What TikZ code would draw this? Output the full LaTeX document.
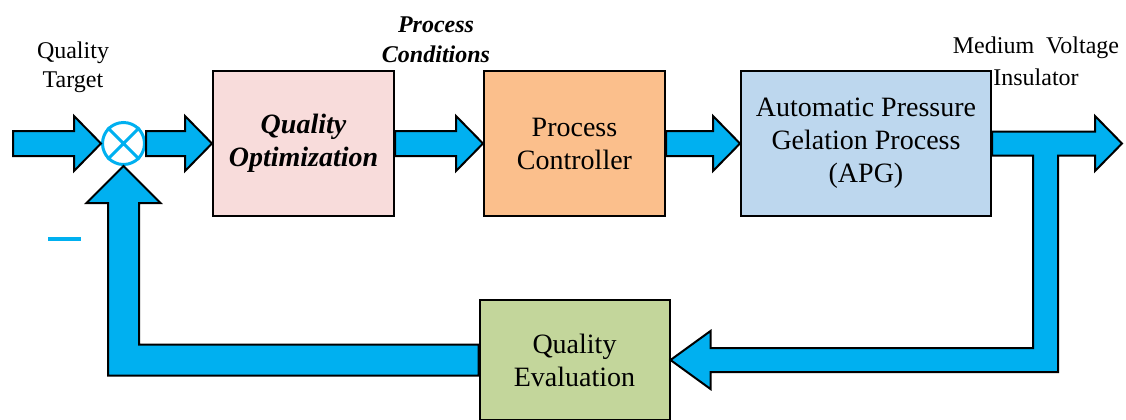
\documentclass[tikz,border=0pt]{standalone}
\usepackage{fontspec}
\setmainfont{Liberation Serif}
\usetikzlibrary{positioning,calc}
\definecolor{Ink}{HTML}{000000}
\definecolor{Flow}{HTML}{00B0F0}
\definecolor{OptFill}{HTML}{F8DCDB}
\definecolor{CtrlFill}{HTML}{FBBF8C}
\definecolor{ApgFill}{HTML}{BDD7EE}
\definecolor{EvalFill}{HTML}{C3D69B}
\tikzset{
  blockbox/.style={draw=Ink,line width=1pt,minimum height=72.5pt,align=center,font=\fontsize{14}{16.5}\selectfont,text=Ink},
  sumnode/.style={circle,draw=Flow,line width=1.5pt,fill=white,minimum size=21pt,inner sep=0pt},
  note/.style={align=center,font=\fontsize{12}{14.5}\selectfont,text=Ink},
  flow/.style={fill=Flow,draw=Ink,line width=1pt,line join=miter}
}
% block arrow from #1 to #2, left to right
\newcommand{\flowright}[2]{%
  \filldraw[flow] ($(#1)+(0,-12.5)$) -- ($(#2)+(-27,-12.5)$) -- ($(#2)+(-27,-27.5)$) -- (#2)
    -- ($(#2)+(-27,27.5)$) -- ($(#2)+(-27,12.5)$) -- ($(#1)+(0,12.5)$) -- cycle;}

\begin{document}
\begin{tikzpicture}[x=0.5pt,y=-0.5pt]
  \useasboundingbox (0,0) rectangle (1126,419);
  \node[blockbox,fill=OptFill,minimum width=90.5pt,font=\fontsize{14}{16.5}\selectfont\bfseries\itshape] (opt) at (303.5,143.5) {Quality\\Optimization};
  \node[blockbox,fill=CtrlFill,minimum width=90.5pt,right=44pt of opt] (ctrl) {Process\\Controller};
  \node[blockbox,fill=ApgFill,minimum width=125pt,right=37pt of ctrl] (apg) {Automatic Pressure\\Gelation Process\\(APG)};
  \node[blockbox,fill=EvalFill,minimum width=95pt,minimum height=60pt,below=41pt of ctrl] (eval) {Quality\\Evaluation};
  \node[sumnode,left=33pt of opt] (sum) {};
  \draw[Flow,line width=1.5pt] (sum.north west) -- (sum.south east) (sum.north east) -- (sum.south west);
  \coordinate[left=44pt of sum] (in);
  \coordinate[right=65pt of apg] (out);
  \coordinate (tee) at ($(apg.east)+(53.5,0)$);

  \node[note] (target) at (73,67.5) {Quality\\Target};
  \node[note,font=\fontsize{12}{15}\selectfont\bfseries\itshape] (cond) at (436,39.5) {Process\\Conditions};
  \node[note,font=\fontsize{12}{16}\selectfont] (insul) at (1036,61) {Medium\ \ Voltage\\Insulator};
  \node[fill=Flow,minimum width=16.5pt,minimum height=2pt,inner sep=0pt] (neg) at (64.5,239) {};

  \flowright{in}{sum.west}
  \flowright{sum.east}{opt.west}
  \flowright{opt.east}{ctrl.west}
  \flowright{ctrl.east}{apg.west}
  % output with the tap down to the evaluation
  \filldraw[flow] ($(apg.east)+(0,-12)$) -- ($(out)+(-27,-12)$) -- ($(out)+(-27,-27.5)$) -- (out)
    -- ($(out)+(-27,27.5)$) -- ($(out)+(-27,12)$) -- ($(tee)+(12.5,12)$)
    -- ($(tee |- eval.east)+(12.5,12)$) -- ($(eval.east)+(40,12)$) -- ($(eval.east)+(40,29)$)
    -- (eval.east) -- ($(eval.east)+(40,-29)$) -- ($(eval.east)+(40,-12)$)
    -- ($(tee |- eval.east)+(-12.5,-12)$) -- ($(tee)+(-12.5,12)$) -- ($(apg.east)+(0,12)$) -- cycle;
  % feedback to the summing point
  \filldraw[flow] ($(eval.west)+(0,-15.5)$) -- ($(sum.south |- eval.west)+(15.5,-15.5)$)
    -- ($(sum.south)+(15.5,37)$) -- ($(sum.south)+(37,37)$) -- (sum.south)
    -- ($(sum.south)+(-37,37)$) -- ($(sum.south)+(-15.5,37)$)
    -- ($(sum.south |- eval.west)+(-15.5,15.5)$) -- ($(eval.west)+(0,15.5)$) -- cycle;
\end{tikzpicture}
\end{document}
